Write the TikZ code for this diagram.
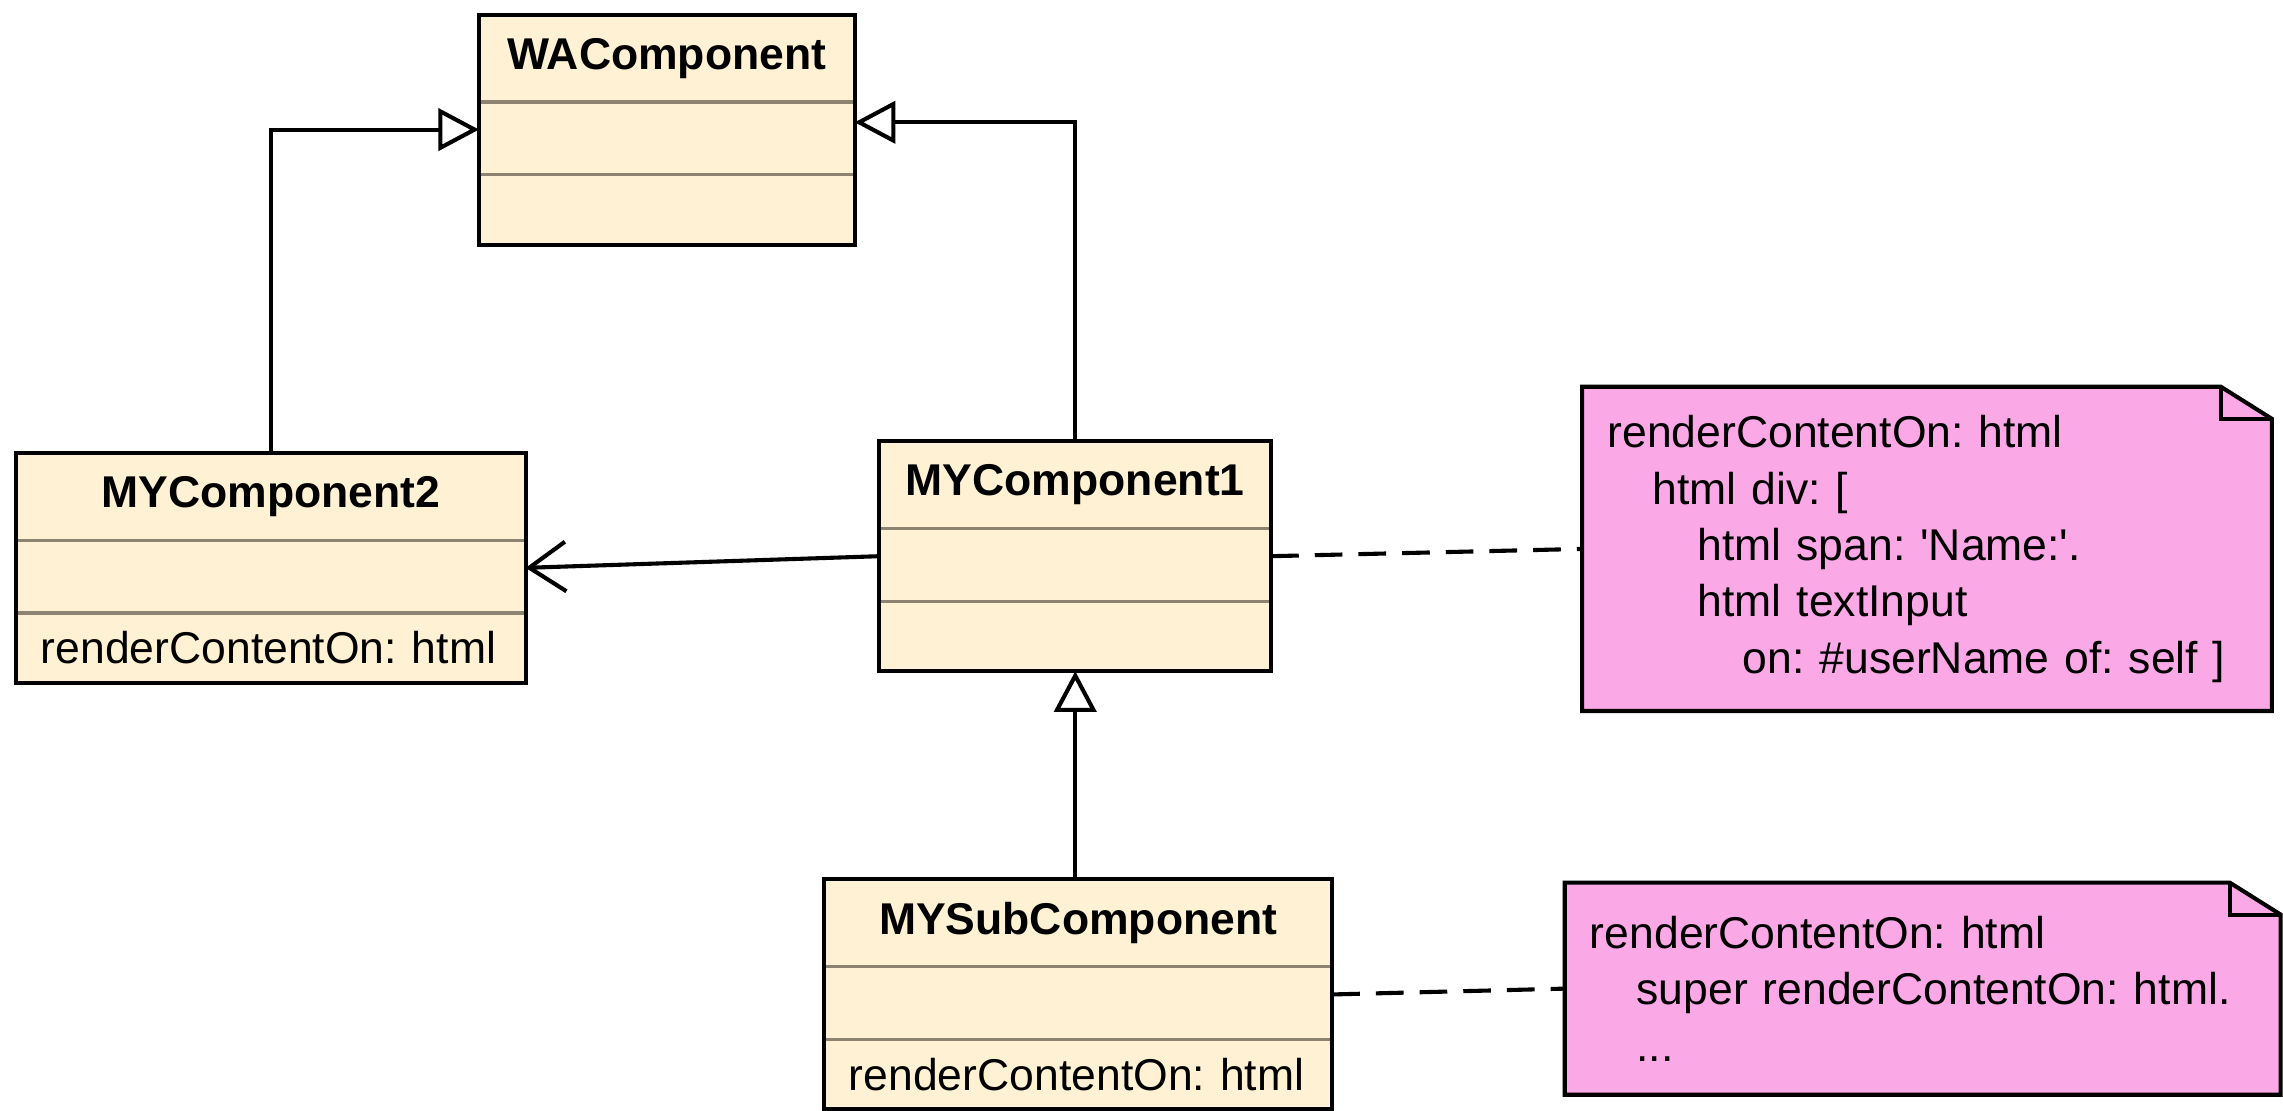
\documentclass[tikz,border=0pt]{standalone}
\usepackage{fontspec}
\setmainfont{Liberation Sans}
\usetikzlibrary{positioning,fit,arrows.meta,backgrounds}
\definecolor{classfill}{RGB}{255,242,212}
\definecolor{notefill}{RGB}{251,168,230}
\definecolor{sepline}{RGB}{140,131,112}

\begin{document}
\begin{tikzpicture}[
    cpart/.style={
        rectangle, draw=sepline, line width=1.3pt, fill=classfill,
        outer sep=0pt, inner sep=0pt,
        font=\fontsize{17.4}{22}\selectfont\frenchspacing
    },
    ctitle/.style={cpart, minimum height=1.2cm, font=\fontsize{17.4}{22}\selectfont\bfseries},
    cmid/.style={cpart, minimum height=1.0cm},
    cattr/.style={cpart, minimum height=0.96cm, align=left, inner xsep=0.34cm},
    cbox/.style={rectangle, draw=black, line width=1.6pt, inner sep=0pt, outer sep=0pt},
    notebox/.style={
        rectangle, inner xsep=0.34cm, align=left,
        font=\fontsize{17.4}{22}\selectfont\frenchspacing
    },
    notepaper/.style={draw=black, fill=notefill, line width=1.6pt},
    isa/.style={-{Triangle[length=0.56cm, width=0.58cm, fill=white]}, line width=1.6pt},
    assoc/.style={-{Straight Barb[length=0.5cm, width=0.68cm]}, line width=1.6pt},
    dashlink/.style={line width=1.6pt, dash pattern=on 0.38cm off 0.22cm}
]
\useasboundingbox (0,0) rectangle (31.36,15.26);

% --- WAComponent (top) ---
\node[ctitle, minimum width=5.16cm] (wa-t) at (9.16,14.46) {WAComponent};
\node[cmid, minimum width=5.16cm, below=0pt of wa-t] (wa-m) {};
\node[cmid, minimum width=5.16cm, minimum height=0.96cm, below=0pt of wa-m] (wa-b) {};
\node[cbox, fit=(wa-t)(wa-b)] (wa) {};

% --- MYComponent2 (left) ---
\node[ctitle, minimum width=7.0cm] (c2-t) at (3.72,8.44) {MYComponent2};
\node[cmid, minimum width=7.0cm, below=0pt of c2-t] (c2-m) {};
\node[cattr, text width=6.32cm, below=0pt of c2-m] (c2-b) {renderContentOn: html};
\node[cbox, fit=(c2-t)(c2-b)] (c2) {};

% --- MYComponent1 (centre) ---
\node[ctitle, minimum width=5.38cm] (c1-t) at (14.77,8.60) {MYComponent1};
\node[cmid, minimum width=5.38cm, below=0pt of c1-t] (c1-m) {};
\node[cmid, minimum width=5.38cm, minimum height=0.96cm, below=0pt of c1-m] (c1-b) {};
\node[cbox, fit=(c1-t)(c1-b)] (c1) {};

% --- MYSubComponent (bottom) ---
\node[ctitle, minimum width=6.98cm] (sub-t) at (14.81,2.58) {MYSubComponent};
\node[cmid, minimum width=6.98cm, below=0pt of sub-t] (sub-m) {};
\node[cattr, text width=6.30cm, below=0pt of sub-m] (sub-b) {renderContentOn: html};
\node[cbox, fit=(sub-t)(sub-b)] (sub) {};

% --- Notes ---
\node[notebox, minimum width=9.46cm, minimum height=4.44cm, text width=8.78cm] (n1) at (26.47,7.72) {
    renderContentOn: html \\
    \hspace*{0.62cm}html div: [ \\
    \hspace*{1.24cm}html span: \textquotesingle Name:\textquotesingle. \\
    \hspace*{1.24cm}html textInput \\
    \hspace*{1.86cm}on: \#userName of: self ]
};
\node[notebox, minimum width=9.82cm, minimum height=2.90cm, text width=9.14cm] (n2) at (26.41,1.68) {
    renderContentOn: html \\
    \hspace*{0.64cm}super renderContentOn: html. \\
    \hspace*{0.64cm}...
};

\begin{scope}[on background layer]
  \foreach \n in {n1,n2} {
    \filldraw[notepaper] (\n.south west) -- (\n.north west) -- ([xshift=-0.7cm]\n.north east)
        -- ([yshift=-0.44cm]\n.north east) -- (\n.south east) -- cycle;
    \draw[notepaper, fill=none] ([xshift=-0.7cm]\n.north east) |- ([yshift=-0.44cm]\n.north east);
  }
\end{scope}

% --- Connectors ---
\draw[isa] (c2.north) |- (wa.west);
\draw[isa] (c1.north) |- ([yshift=0.1cm]wa.east);
\draw[isa] (c1.south |- sub.north) -- (c1.south);
\draw[assoc] (c1.west) -- (c2.east);
\draw[dashlink] (c1.east) -- (n1.west);
\draw[dashlink] (sub.east) -- (n2.west);

\end{tikzpicture}
\end{document}
